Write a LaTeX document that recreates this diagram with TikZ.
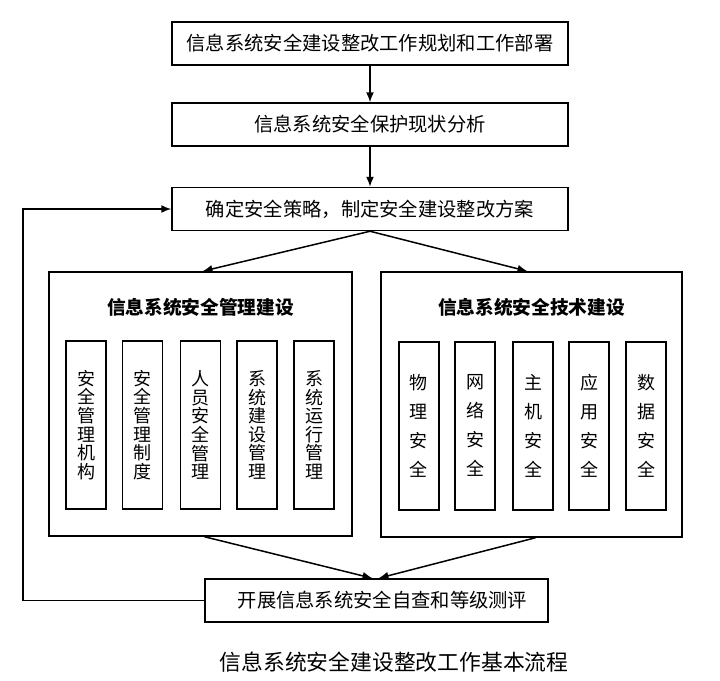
\documentclass[tikz,border=0pt]{standalone}
\usepackage{fontspec}
\newfontfamily\cjk{Noto Sans CJK SC}
\usetikzlibrary{arrows.meta}

\begin{document}
\begin{tikzpicture}[x=1pt, y=-1pt,
  stepbox/.style={draw, line width=1.5pt, minimum width=396pt, minimum height=43pt, inner sep=0pt, font=\cjk\fontsize{19.3}{21}\selectfont},
  groupbox/.style={draw, line width=1.5pt, inner sep=0pt},
  grouptitle/.style={font=\cjk\bfseries\fontsize{18.7}{20}\selectfont},
  itembox/.style={draw, line width=1.2pt, minimum width=40pt, minimum height=168pt, inner sep=0pt, align=center, font=\cjk\fontsize{18}{18.6}\selectfont},
  techbox/.style={itembox, line width=2pt, font=\cjk\fontsize{18}{29}\selectfont},
  flow/.style={line width=1.5pt, -{Latex[length=10pt, width=8pt]}}]
\useasboundingbox[fill=white] (0,0) rectangle (720,680);

% steps
\node[stepbox] (plan) at (370,43.5) {信息系统安全建设整改工作规划和工作部署};
\node[stepbox] (status) at (370,124.5) {信息系统安全保护现状分析};
\node[stepbox] (policy) at (370,209) {确定安全策略，制定安全建设整改方案};
\node[stepbox, minimum width=343pt] (check) at (376.5,600.5) {\hspace{12pt}开展信息系统安全自查和等级测评};

% management and technology
\node[groupbox, minimum width=303pt, minimum height=264pt] (mgmt) at (200.5,404) {};
\node[groupbox, minimum width=301pt, minimum height=265pt] (tech) at (531.5,404.5) {};
\node[grouptitle] (mgmttitle) at (200.5,307) {信息系统安全管理建设};
\node[grouptitle] (techtitle) at (531.5,307) {信息系统安全技术建设};

\foreach \x/\txt [count=\i] in {86/安\\全\\管\\理\\机\\构, 142.5/安\\全\\管\\理\\制\\度, 200.5/人\\员\\安\\全\\管\\理, 257/系\\统\\建\\设\\管\\理, 314/系\\统\\运\\行\\管\\理}
  \node[itembox] (m\i) at (\x,425) {\txt};
\foreach \x/\txt [count=\i] in {418.5/物\\理\\安\\全, 475/网\\络\\安\\全, 533/主\\机\\安\\全, 589/应\\用\\安\\全, 646/数\\据\\安\\全}
  \node[techbox] (t\i) at (\x,425.5) {\txt};

% connectors
\draw[flow] (plan) -- (status);
\draw[flow] (status) -- (policy);
\draw[flow] (policy.south) -- ([xshift=2pt]mgmt.north);
\draw[flow] (policy.south) -- ([xshift=-4pt]tech.north);
\draw[flow] ([xshift=4pt]mgmt.south) -- ([xshift=-4pt]check.north);
\draw[flow] ([xshift=4pt]tech.south) -- ([xshift=2pt]check.north);
\coordinate (back) at (23,600.5);
\draw[flow] (check.west) -- (back) |- (policy.west);

\node[font=\cjk\fontsize{21.8}{24}\selectfont] (caption) at (394,662) {信息系统安全建设整改工作基本流程};
\end{tikzpicture}
\end{document}
